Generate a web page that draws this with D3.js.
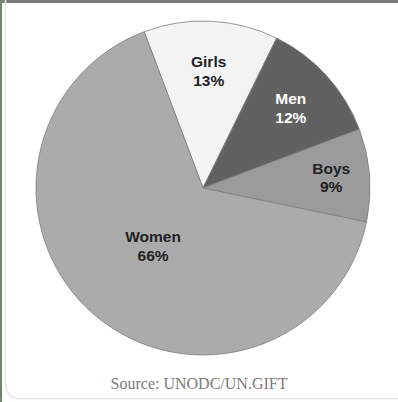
<!DOCTYPE html>
<html>
<head>
<meta charset="utf-8">
<script src="https://cdn.jsdelivr.net/npm/d3@7"></script>
<style>
  html, body { margin: 0; padding: 0; background: #fff; }
  svg { display: block; }
</style>
</head>
<body>
<div id="vis"></div>
<script>
// slice data, clockwise from the top
var categories = ['Girls', 'Men', 'Boys', 'Women'];
var shares = [13, 12, 9, 66];
var sliceColors = ['#f3f3f3', '#616161', '#9b9b9b', '#ababab'];
var labelColors = ['#222', '#fff', '#222', '#222'];
var sourceText = 'Source: UNODC/UN.GIFT';

var width = 398, height = 402;
var center = { x: 203, y: 188 };
var radius = 167;

var svg = d3.select('#vis').append('svg')
  .attr('width', width)
  .attr('height', height);

// page furniture: gray top band, green left edge, rounded card border
svg.append('rect').attr('x', 0).attr('y', 0).attr('width', width).attr('height', 3).attr('fill', '#7a7a7a');
svg.append('rect').attr('x', 0).attr('y', 0).attr('width', 2).attr('height', height).attr('fill', '#6f866f');
svg.append('rect')
  .attr('x', 5.5).attr('y', -20).attr('width', width + 20).attr('height', height - 3.5 + 20)
  .attr('rx', 14)
  .attr('fill', 'none')
  .attr('stroke', '#e6e6e6')
  .attr('stroke-width', 1.5);

var data = categories.map(function (c, i) {
  return { name: c, value: shares[i], fill: sliceColors[i], text: labelColors[i] };
});

var pie = d3.pie()
  .sort(null)
  .value(function (d) { return d.value; })
  .startAngle(-0.36)
  .endAngle(-0.36 + 2 * Math.PI);

var arc = d3.arc().innerRadius(0).outerRadius(radius);

var g = svg.append('g').attr('transform', 'translate(' + center.x + ',' + center.y + ')');

var arcs = pie(data);

g.selectAll('path.slice')
  .data(arcs)
  .enter().append('path')
  .attr('class', 'slice')
  .attr('d', arc)
  .attr('fill', function (d) { return d.data.fill; })
  .attr('stroke', '#7d7d7d')
  .attr('stroke-width', 0.8);

// label radius as a fraction of the pie radius, per slice
var labelRadius = [0.70, 0.71, 0.77, 0.46];

var labels = g.selectAll('text.label')
  .data(arcs)
  .enter().append('text')
  .attr('class', 'label')
  .attr('text-anchor', 'middle')
  .attr('font-family', '"Liberation Sans", Arial, sans-serif')
  .attr('font-weight', 'bold')
  .attr('font-size', 15.5)
  .attr('fill', function (d) { return d.data.text; })
  .attr('transform', function (d, i) {
    var a = (d.startAngle + d.endAngle) / 2;
    var r = radius * labelRadius[i];
    return 'translate(' + (Math.sin(a) * r) + ',' + (-Math.cos(a) * r) + ')';
  });

labels.append('tspan')
  .attr('x', 0)
  .attr('dy', '-0.27em')
  .text(function (d) { return d.data.name; });

labels.append('tspan')
  .attr('x', 0)
  .attr('dy', '1.2em')
  .text(function (d) { return d.data.value + '%'; });

svg.append('text')
  .attr('x', 199)
  .attr('y', 389)
  .attr('text-anchor', 'middle')
  .attr('font-family', '"Liberation Serif", "Times New Roman", serif')
  .attr('font-size', 16)
  .attr('fill', '#7a7a7a')
  .text(sourceText);
</script>
</body>
</html>
